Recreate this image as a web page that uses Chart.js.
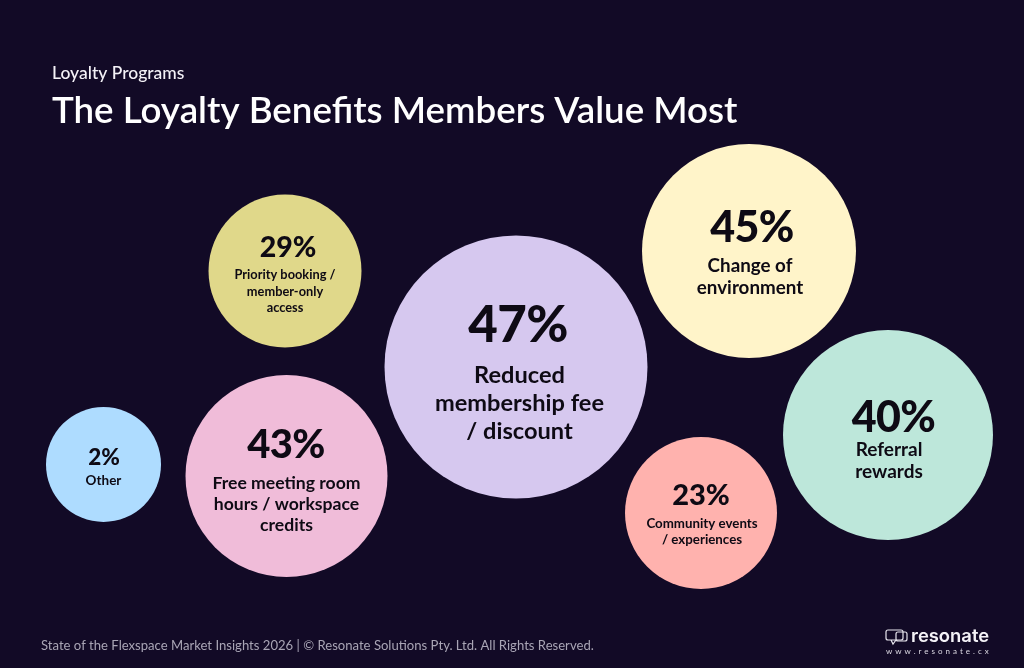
<!DOCTYPE html>
<html>
<head>
<meta charset="utf-8">
<title>The Loyalty Benefits Members Value Most</title>
<script src="https://cdn.jsdelivr.net/npm/chart.js@4/dist/chart.umd.min.js"></script>
<style>
  html, body { margin: 0; padding: 0; background: #120a26; }
  canvas { display: block; }
</style>
</head>
<body>
<canvas id="chart" width="1024" height="668"></canvas>
<script>
const percents = [29, 47, 45, 43, 40, 23, 2]
const labels = [
  ["Priority booking /", "member-only", "access"],
  ["Reduced", "membership fee", "/ discount"],
  ["Change of", "environment"],
  ["Free meeting room", "hours / workspace", "credits"],
  ["Referral", "rewards"],
  ["Community events", "/ experiences"],
  ["Other"],
]
// bubbles are laid out by hand, not by value
const bubbleX = [285, 516, 749, 286.5, 888, 701, 103.5]
const bubbleY = [271, 367, 251, 476, 435, 513, 464.5]
const bubbleR = [76.5, 131.5, 107, 101, 105, 76, 57.5]
const colors = ["#e0d88a", "#d6c8ef", "#fff4c9", "#f0bcd9", "#bde7da", "#ffb2ae", "#aedcff"]

const numberSize = [28.5, 51, 43, 40, 43, 29, 22.5]
const labelSize = [12.8, 23.6, 18.8, 17.6, 19, 13.3, 13.5]
const numberY = [248, 326, 228, 445, 418, 496, 458]
const labelY = [275, 375, 266, 483, 450, 524, 481]
const lineGap = [16.5, 28, 22, 21, 22, 16, 16]
// text sits a little off centre in some bubbles
const numberShift = [3, 2, 3, -0.5, 5.5, 0, 0.5]
const labelShift = [0, 3.5, 1, 0, 1, 1, 0]

const FONT = "Lato, 'Noto Sans', sans-serif"
const INK = "#0e0a14"

function text(ctx, str, x, y, font, color, align, spacing) {
  ctx.font = font
  ctx.fillStyle = color
  ctx.textAlign = align || "left"
  ctx.textBaseline = "middle"
  ctx.letterSpacing = spacing || "0px"
  ctx.fillText(str, x, y)
  ctx.letterSpacing = "0px"
}

const bubbleText = {
  id: "bubbleText",
  afterDatasetsDraw(chart) {
    const ctx = chart.ctx
    const meta = chart.getDatasetMeta(0)
    ctx.save()
    meta.data.forEach((pt, i) => {
      const tight = numberSize[i] > 35 ? "-0.6px" : "0px"
      text(ctx, percents[i] + "%", pt.x + numberShift[i], numberY[i], "900 " + numberSize[i] + "px " + FONT, INK, "center", tight)
      labels[i].forEach((line, j) => {
        text(ctx, line, pt.x + labelShift[i], labelY[i] + j * lineGap[i], "700 " + labelSize[i] + "px " + FONT, INK, "center")
      })
    })
    ctx.restore()
  },
}

const pageText = {
  id: "pageText",
  afterDraw(chart) {
    const ctx = chart.ctx
    ctx.save()
    text(ctx, "Loyalty Programs", 52, 73, "500 17.5px " + FONT, "#f4f2f7")
    text(ctx, "The Loyalty Benefits Members Value Most", 52, 111, "600 36.7px " + FONT, "#ffffff")
    text(ctx, "State of the Flexspace Market Insights 2026 | © Resonate Solutions Pty. Ltd. All Rights Reserved.", 41, 646, "400 13.1px " + FONT, "#a9a5b5")
    text(ctx, "resonate", 911, 636, "600 18.4px Inter, " + FONT, "#f4f2f7")
    text(ctx, "www.resonate.cx", 886, 651, "400 8px " + FONT, "#dcd9e3", "left", "3px")

    // logo: two overlapping speech bubbles
    ctx.strokeStyle = "#e8e6ee"
    ctx.lineWidth = 1.2
    ctx.beginPath()
    ctx.roundRect(886, 630, 17, 10, 2)
    ctx.moveTo(891, 640)
    ctx.lineTo(893, 644)
    ctx.lineTo(896, 640)
    ctx.stroke()
    ctx.beginPath()
    ctx.roundRect(896, 632, 11, 9, 2)
    ctx.stroke()
    ctx.restore()
  },
}

new Chart(document.getElementById("chart"), {
  type: "bubble",
  data: {
    datasets: [{
      data: bubbleX.map((x, i) => ({ x, y: bubbleY[i], r: bubbleR[i] })),
      backgroundColor: colors,
      borderWidth: 0,
      hoverBorderWidth: 0,
      clip: false,
    }],
  },
  options: {
    responsive: false,
    animation: false,
    layout: { padding: 0, autoPadding: false },
    plugins: { legend: { display: false }, tooltip: { enabled: false }, title: { display: false } },
    scales: {
      x: { type: "linear", min: 0, max: 1024, display: false },
      y: { type: "linear", min: 0, max: 668, reverse: true, display: false },
    },
  },
  plugins: [bubbleText, pageText],
})
</script>
</body>
</html>
